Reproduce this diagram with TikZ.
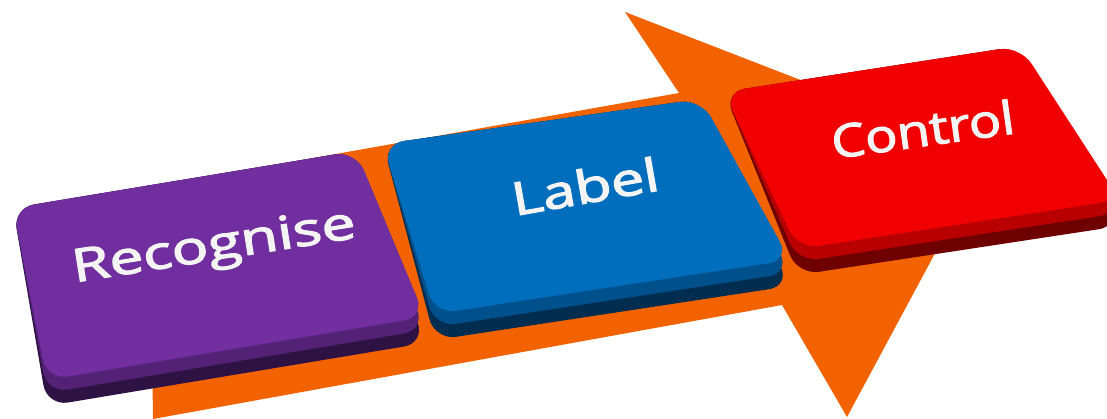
\documentclass[tikz,border=0pt]{standalone}
\usepackage{fontspec}
\setmainfont{Open Sans}
\newfontfamily\keyfont{Open Sans}[FakeBold=2.4]
\usepackage{graphicx}
\usepackage{tikz}
\usetikzlibrary{calc}
\usepackage{xcolor}
\definecolor{arroworange}{RGB}{242,99,0}
\definecolor{recpurple}{RGB}{112,46,158}
\definecolor{recpurplemid}{RGB}{83,34,118}
\definecolor{recpurpledark}{RGB}{46,18,68}
\definecolor{lblblue}{RGB}{0,110,188}
\definecolor{lblbluemid}{RGB}{0,80,140}
\definecolor{lblbluedark}{RGB}{0,45,80}
\definecolor{ctlred}{RGB}{240,0,0}
\definecolor{ctlredmid}{RGB}{185,0,0}
\definecolor{ctlreddark}{RGB}{110,0,0}
\definecolor{textwhite}{RGB}{244,244,244}
% #1-#4 corners of the top face (tl, tr, br, bl), #5 face, #6 band, #7 side
\newcommand{\keybutton}[7]{%
  \fill[#7,rounded corners=12pt] #1 -- #2 -- ($#3+(0,26)$) -- ($#4+(0,26)$) -- cycle;
  \fill[#6,rounded corners=12pt] #1 -- #2 -- ($#3+(0,13)$) -- ($#4+(0,13)$) -- cycle;
  \fill[#5,rounded corners=12pt] #1 -- #2 -- #3 -- #4 -- cycle;
}

\begin{document}
\begin{tikzpicture}[x=0.02cm,y=-0.02cm,
  every node/.style={font=\keyfont\fontsize{26}{30}\selectfont,anchor=base,inner sep=0pt},
  keytext/.style={text=textwhite}]
\useasboundingbox (0,0) rectangle (1107,419);
\fill[arroworange] (153,419) -- (150,187) -- (679,93) -- (625,12) -- (989,153) -- (847,417) -- (782,305) -- cycle;
\keybutton{(13,208)}{(356,151)}{(425,317)}{(47,380)}{recpurple}{recpurplemid}{recpurpledark}
\keybutton{(383,144)}{(701,99)}{(790,260)}{(435,314)}{lblblue}{lblbluemid}{lblbluedark}
\keybutton{(724,92)}{(1020,46)}{(1120,200)}{(798,249)}{ctlred}{ctlredmid}{ctlreddark}
\node[keytext,rotate=9]  (recognise) at (216,260) {\scalebox{1.33}[1]{Recognise}};
\node[keytext,rotate=10] (label)     at (588,203) {\scalebox{1.3}[1]{Label}};
\node[keytext,rotate=8]  (control)   at (925,146) {\scalebox{1.17}[1]{Control}};
\end{tikzpicture}
\end{document}
